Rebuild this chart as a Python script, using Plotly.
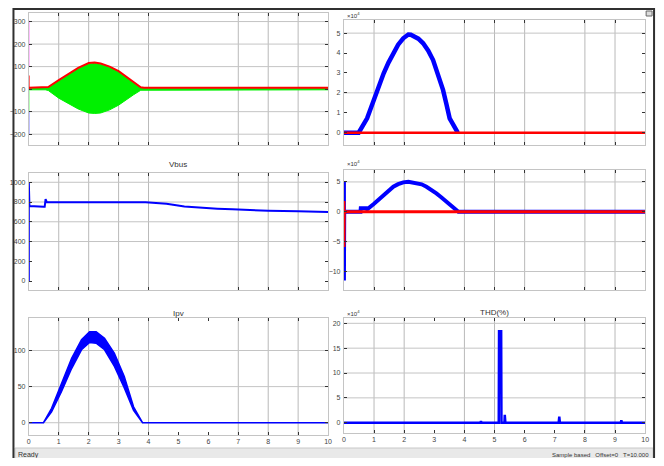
import plotly.graph_objects as go

# The page body has an 8px margin, so the figure is laid out in page pixels
# and shifted by that margin.
PAGE_W, PAGE_H = 664, 466
OFF = 8
W, H = 656, 450

# ---------------- data ----------------
# Top-left scope: grid current envelope (green) and reference (red)
TL_T = [0, 0.55, 0.65, 1.0, 1.32, 1.65, 2.0, 2.2, 2.4, 2.7, 3.0, 3.25, 3.5, 3.74, 3.85, 10]
TL_GREEN_UP = [4, 4, 6, 36, 62, 90, 112, 114, 110, 96, 76, 52, 27, 5, 4, 4]
TL_GREEN_LO = [-3, -3, -6, -40, -62, -88, -106, -108, -106, -92, -71, -48, -25, -5, -3, -3]
TL_RED = [6, 6, 9, 40, 66, 94, 116, 118, 114, 100, 80, 56, 31, 8, 6, 6]
TL_START_T = [0, 0]
TL_PINK0 = [305, 100]
TL_RED0 = [60, 0]
TL_GREEN0 = [0, -100]
TL_BLUE0 = [-100, -200]

# Top-right scope (x10^4): blue power, red reference
TR_T = [0, 0.49, 0.77, 0.99, 1.15, 1.32, 1.48, 1.64, 1.80, 1.97, 2.06, 2.14, 2.22, 2.30, 2.47, 2.63, 2.80, 2.96, 3.13, 3.29, 3.40, 3.51, 3.78]
TR_BLUE = [0, 0, 0.72, 1.64, 2.32, 2.98, 3.52, 3.99, 4.42, 4.74, 4.87, 4.93, 4.92, 4.86, 4.72, 4.49, 4.12, 3.65, 2.95, 2.15, 1.45, 0.72, 0]
TR_RED_T = [0, 10]
TR_RED = [0, 0]

# Middle-left scope: Vbus
VB_T = [0, 0, 0.02, 0.5, 0.53, 0.56, 0.6, 0.65, 1, 2, 3, 3.9, 4.6, 5.2, 5.7, 6.3, 6.8, 7.4, 8, 9, 10]
VB = [0, 1000, 760, 752, 752, 830, 800, 798, 797, 796, 797, 798, 782, 755, 742, 733, 726, 717, 712, 706, 700]

# Middle-right scope (x10^4)
MR_T = [0, 0, 0.01, 0.55, 0.56, 0.74, 0.77, 0.99, 1.15, 1.32, 1.48, 1.64, 1.80, 1.97, 2.14, 2.41, 2.58, 2.74, 2.90, 3.07, 3.24, 3.40, 3.67, 3.8, 10]
MR_BLUE = [5, -11.5, 0, 0, 0.6, 0.6, 0.4, 1.29, 2.05, 2.8, 3.55, 4.2, 4.62, 4.93, 5.03, 4.87, 4.6, 4.2, 3.7, 3.08, 2.4, 1.68, 0.39, 0, 0]
MR_RED_T = [0, 0, 0.01, 10]
MR_RED = [1.8, -5.9, 0, 0]

# Bottom-left scope: Ipv band
IPV_T = [0, 0.49, 0.76, 1.09, 1.43, 1.76, 2.03, 2.25, 2.53, 2.86, 3.19, 3.5, 3.8, 10]
IPV_UP = [0, 0, 20, 55, 89, 115, 126, 126, 117, 96, 64, 22, 0, 0]
IPV_LO = [0, 0, 15, 43, 75, 101, 111, 110, 101, 78, 48, 17, 0, 0]

# Bottom-right scope: THD(%)
THD_T = [0, 4.53, 4.55, 4.57, 5.14, 5.15, 5.22, 5.23, 5.33, 5.34, 5.36, 7.13, 7.15, 7.17, 9.19, 9.21, 9.23, 10]
THD = [0, 0, 0.3, 0, 0, 18.4, 18.4, 0, 0, 1.6, 0, 0, 1.2, 0, 0, 0.5, 0, 0]

# tick labels / grids
X_TICKS = list(range(0, 11))
TL_YTICKS = [-200, -100, 0, 100, 200, 300]
TR_YTICKS = [0, 1, 2, 3, 4, 5]
ML_YTICKS = [0, 200, 400, 600, 800, 1000]
MR_YTICKS = [-10, -5, 0, 5]
BL_YTICKS = [0, 50, 100]
BR_YTICKS = [0, 5, 10, 15, 20]

TL_XGRID = [1, 2, 3, 4, 7, 8, 9]
TR_XGRID = [1, 2, 4, 5, 6, 8, 9]
ML_XGRID = [1, 2, 3, 4, 7, 8, 9]
MR_XGRID = [1, 2, 4, 5, 6, 8, 9]
BL_XGRID = [1, 2, 3, 4, 7, 8, 9]
BR_XGRID = [1, 2, 4, 5, 8, 9]
TL_YGRID = [-200, -100, 0, 100, 200, 300]
TR_YGRID = [0, 2, 5]
ML_YGRID = [400, 600, 800, 1000]
MR_YGRID = [-10, -5, 0, 5]
BL_YGRID = [0, 50, 100]
BR_YGRID = [0, 5, 10, 15, 20]

# ---------------- layout helpers (page pixel -> paper fraction) ----------------
def px(x):
    return (x - OFF) / W

def py(y):
    return 1 - (y - OFF) / H

def xdom(l, r):
    return [px(l), px(r)]

def ydom(top, bottom):
    return [py(bottom), py(top)]

FONT = "Liberation Sans, Arial, sans-serif"
BLUE = "#0000ff"
RED = "#ff0000"
GREEN = "#00f000"

fig = go.Figure()

def add(x, y, ax, **kw):
    fig.add_trace(go.Scatter(x=x, y=y, mode="lines", xaxis="x" + ax, yaxis="y" + ax,
                             hoverinfo="skip", showlegend=False, **kw))

# top-left
add(TL_T + TL_T[::-1], TL_GREEN_UP + TL_GREEN_LO[::-1], "", fill="toself",
    fillcolor=GREEN, line=dict(color=GREEN, width=1))
add(TL_T, TL_RED, "", line=dict(color=RED, width=2))
add(TL_START_T, TL_PINK0, "", line=dict(color="#ff90ff", width=1.5))
add(TL_START_T, TL_RED0, "", line=dict(color=RED, width=1.5))
add(TL_START_T, TL_GREEN0, "", line=dict(color="#80ff80", width=1.5))
add(TL_START_T, TL_BLUE0, "", line=dict(color="#9090ff", width=1.5))

# top-right
add(TR_T, TR_BLUE, "2", line=dict(color=BLUE, width=4.5))
add(TR_RED_T, TR_RED, "2", line=dict(color=RED, width=2.5))

# middle-left
add(VB_T, VB, "3", line=dict(color=BLUE, width=2))

# middle-right
add(MR_T, MR_BLUE, "4", line=dict(color=BLUE, width=4))
add(MR_RED_T, MR_RED, "4", line=dict(color=RED, width=3))

# bottom-left
add(IPV_T + IPV_T[::-1], IPV_UP + IPV_LO[::-1], "5", fill="toself",
    fillcolor=BLUE, line=dict(color=BLUE, width=1.5))

# bottom-right
add(THD_T, THD, "6", line=dict(color=BLUE, width=2.5))

panels = {
    "":  dict(xd=xdom(27, 329), yd=ydom(13, 145), yr=[-248, 338], yt=TL_YTICKS, xg=TL_XGRID, yg=TL_YGRID, lab=False),
    "2": dict(xd=xdom(345, 649), yd=ydom(20, 145), yr=[-0.62, 5.66], yt=TR_YTICKS, xg=TR_XGRID, yg=TR_YGRID, lab=False),
    "3": dict(xd=xdom(27, 329), yd=ydom(173, 290), yr=[-91, 1094], yt=ML_YTICKS, xg=ML_XGRID, yg=ML_YGRID, lab=False),
    "4": dict(xd=xdom(345, 649), yd=ydom(170, 290), yr=[-13.1, 7.0], yt=MR_YTICKS, xg=MR_XGRID, yg=MR_YGRID, lab=False),
    "5": dict(xd=xdom(27, 329), yd=ydom(318, 435), yr=[-17, 145], yt=BL_YTICKS, xg=BL_XGRID, yg=BL_YGRID, lab=True),
    "6": dict(xd=xdom(345, 649), yd=ydom(318, 433), yr=[-2.07, 21.07], yt=BR_YTICKS, xg=BR_XGRID, yg=BR_YGRID, lab=True),
}

layout = dict(width=W, height=H, margin=dict(l=0, r=0, t=0, b=0),
              paper_bgcolor="white", plot_bgcolor="white", showlegend=False,
              font=dict(family=FONT, size=7, color="#444"))
shapes = []
axstyle = dict(showgrid=False, zeroline=False, showline=True, linecolor="#c4c4c4",
               linewidth=1, mirror="ticks", ticks="inside", ticklen=3,
               tickcolor="#333", tickwidth=1, fixedrange=True,
               tickfont=dict(family=FONT, size=7, color="#444"))
for ax, p in panels.items():
    xt = X_TICKS if p["lab"] else [0] + p["xg"] + [10]
    layout["xaxis" + ax] = dict(domain=p["xd"], range=[0, 10], anchor="y" + ax,
                                tickvals=xt, showticklabels=p["lab"], **axstyle)
    layout["yaxis" + ax] = dict(domain=p["yd"], range=p["yr"], anchor="x" + ax,
                                tickvals=p["yt"], ticklabelstandoff=1, **axstyle)
    xr = "x" + ax
    yr = "y" + ax
    for v in p["xg"]:
        shapes.append(dict(type="line", xref=xr, yref=yr + " domain", x0=v, x1=v, y0=0, y1=1,
                           line=dict(color="#b9b9b9", width=1), layer="below"))
    for v in p["yg"]:
        shapes.append(dict(type="line", xref=xr + " domain", yref=yr, x0=0, x1=1, y0=v, y1=v,
                           line=dict(color="#c4c4c4", width=1), layer="below"))

# window frame and status bar
shapes.append(dict(type="rect", xref="paper", yref="paper", x0=px(13), x1=px(657),
                   y0=py(462), y1=py(448), fillcolor="#e9e9e9",
                   line=dict(color="#c8c8c8", width=1), layer="below"))
shapes.append(dict(type="rect", xref="paper", yref="paper", x0=px(11.5), x1=px(658),
                   y0=py(463), y1=py(9), line=dict(color="#303030", width=2)))
# small icon in top-right corner
shapes.append(dict(type="rect", xref="paper", yref="paper", x0=px(650), x1=px(656),
                   y0=py(16), y1=py(11), line=dict(color="#666", width=1),
                   fillcolor="#dddddd"))
layout["shapes"] = shapes

ann = []
def text(x, y, s, size=7, xanchor="center", color="#333"):
    ann.append(dict(x=px(x), y=py(y), xref="paper", yref="paper", text=s,
                    showarrow=False, xanchor=xanchor, yanchor="middle",
                    font=dict(family=FONT, size=size, color=color)))

text(178, 164, "Vbus", 8)
text(178, 313, "Ipv", 8)
text(497, 312, "THD(%)", 8)
for yy in (15, 163, 313):
    text(346, yy, "×10<sup>4</sup>", 6, "left")
text(14, 455, "Ready", 7, "left")
text(655, 455, "Sample based   Offset=0   T=10.000", 6, "right")
layout["annotations"] = ann

fig.update_layout(**layout)
fig.write_html("out.html")
